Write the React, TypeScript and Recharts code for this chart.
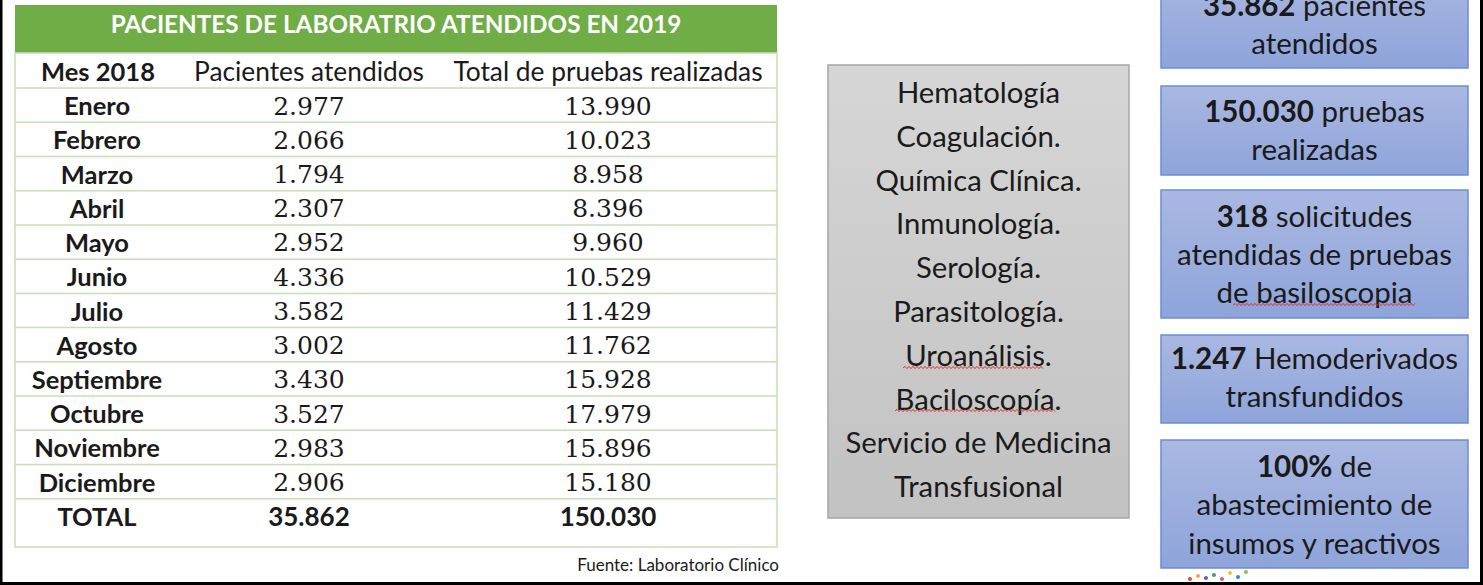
import React from "react";
import { BarChart, Bar, XAxis, YAxis, LabelList, Customized } from "recharts";

// ---------- data ----------
const TITLE = "PACIENTES DE LABORATRIO ATENDIDOS EN 2019";
const HEADERS = ["Mes 2018", "Pacientes atendidos", "Total de pruebas realizadas"];
const MESES = [
  "Enero", "Febrero", "Marzo", "Abril", "Mayo", "Junio", "Julio",
  "Agosto", "Septiembre", "Octubre", "Noviembre", "Diciembre",
];
const PACIENTES = [2977, 2066, 1794, 2307, 2952, 4336, 3582, 3002, 3430, 3527, 2983, 2906];
const PRUEBAS = [13990, 10023, 8958, 8396, 9960, 10529, 11429, 11762, 15928, 17979, 15896, 15180];
const TOTAL_LABEL = "TOTAL";
const TOTAL_PACIENTES = 35862;
const TOTAL_PRUEBAS = 150030;
const FUENTE = "Fuente: Laboratorio Clínico";
const SERVICIOS = [
  "Hematología", "Coagulación.", "Química Clínica.", "Inmunología.", "Serología.",
  "Parasitología.", "Uroanálisis.", "Baciloscopía.", "Servicio de Medicina", "Transfusional",
];
const RESUMEN_BOLD = ["35.862", "150.030", "318", "1.247", "100%"];
const RESUMEN_LINES = [
  [" pacientes", "atendidos"],
  [" pruebas", "realizadas"],
  [" solicitudes", "atendidas de pruebas", "de basiloscopia"],
  [" Hemoderivados", "transfundidos"],
  [" de", "abastecimiento de", "insumos y reactivos"],
];

// ---------- helpers ----------
const fmt = (n: number) => String(n).replace(/\B(?=(\d{3})+(?!\d))/g, ".");

const rows = [
  ...MESES.map((m, i) => ({ mes: m, pacientes: PACIENTES[i], pruebas: PRUEBAS[i], total: false })),
  { mes: TOTAL_LABEL, pacientes: TOTAL_PACIENTES, pruebas: TOTAL_PRUEBAS, total: true },
];

const SANS = "Lato, 'Noto Sans', sans-serif";
const SERIF = "'DejaVu Serif', 'Liberation Serif', serif";
const TEXT = "#1a1a1a";

const TABLE_L = 15;
const TABLE_R = 777;
const COL_MES = 97;
const COL_PAC = 309;
const COL_PRU = 608;

const wave = (x1: number, x2: number, y: number) => {
  let d = `M${x1},${y}`;
  let up = true;
  for (let x = x1 + 2; x <= x2; x += 2) {
    d += ` L${x},${up ? y - 1.6 : y + 0.6}`;
    up = !up;
  }
  return d;
};

const MonthTick = (props: any) => {
  const { y, payload } = props;
  return (
    <text x={COL_MES} y={y} textAnchor="middle" dominantBaseline="central"
      fontFamily={SANS} fontWeight={700} fontSize={25.5} fill={TEXT}>
      {payload.value}
    </text>
  );
};

const RowLine = (props: any) => {
  const { y } = props;
  return <line x1={TABLE_L} x2={TABLE_R} y1={y} y2={y} stroke="#C5E0B4" strokeWidth={1.5} />;
};

const makeLabel = (cx: number) => (props: any) => {
  const { y, height, value, index } = props;
  const isTotal = rows[index]?.total;
  return (
    <text x={cx} y={y + height / 2 + (isTotal ? 0 : 1)} textAnchor="middle" dominantBaseline="central"
      fontFamily={isTotal ? SANS : SERIF} fontWeight={isTotal ? 700 : 400}
      fontSize={isTotal ? 26 : 25} fill={TEXT}>
      {fmt(value)}
    </text>
  );
};

const BLUE_BOXES = [
  { y0: -30, y1: 68, lines: [4, 42] },
  { y0: 86, y1: 175, lines: [110, 148] },
  { y0: 190, y1: 318, lines: [215, 253, 291] },
  { y0: 335, y1: 423, lines: [357, 395] },
  { y0: 440, y1: 568, lines: [465, 503, 542] },
];

const Overlay = () => {
  const grayTop = 65;
  const grayStep = 43.8;
  const grayFirst = 91.5;
  return (
    <g>
      <defs>
        <linearGradient id="grayGrad" x1="0" y1="0" x2="0" y2="1">
          <stop offset="0%" stopColor="#D6D6D6" />
          <stop offset="100%" stopColor="#C2C2C2" />
        </linearGradient>
        <linearGradient id="blueGrad" x1="0" y1="0" x2="0" y2="1">
          <stop offset="0%" stopColor="#AAB8E2" />
          <stop offset="100%" stopColor="#8EA4DA" />
        </linearGradient>
      </defs>

      {/* table frame */}
      <rect x={TABLE_L} y={5} width={TABLE_R - TABLE_L} height={48} fill="#70AD47" />
      <text x={(TABLE_L + TABLE_R) / 2} y={23} textAnchor="middle" dominantBaseline="central"
        fontFamily={SANS} fontWeight={700} fontSize={24.3} fill="#FFFFFF">
        {TITLE}
      </text>
      <rect x={TABLE_L} y={53} width={TABLE_R - TABLE_L} height={494} fill="none"
        stroke="#C5E0B4" strokeWidth={1.5} />
      <text x={COL_MES + 1} y={71} textAnchor="middle" dominantBaseline="central"
        fontFamily={SANS} fontWeight={700} fontSize={25.5} fill={TEXT}>{HEADERS[0]}</text>
      <text x={COL_PAC} y={71} textAnchor="middle" dominantBaseline="central"
        fontFamily={SANS} fontSize={26.3} fill={TEXT}>{HEADERS[1]}</text>
      <text x={COL_PRU} y={71} textAnchor="middle" dominantBaseline="central"
        fontFamily={SANS} fontSize={26.3} fill={TEXT}>{HEADERS[2]}</text>
      <text x={779} y={564} textAnchor="end" dominantBaseline="central"
        fontFamily={SANS} fontSize={17} fill={TEXT}>{FUENTE}</text>

      {/* gray box */}
      <rect x={828} y={grayTop} width={301} height={453} fill="url(#grayGrad)"
        stroke="#A6A6A6" strokeWidth={1.5} />
      {SERVICIOS.map((s, i) => (
        <text key={s} x={978.5} y={grayFirst + i * grayStep} textAnchor="middle"
          dominantBaseline="central" fontFamily={SANS} fontSize={29.3} fill={TEXT}>{s}</text>
      ))}
      <path d={wave(903, 1043, 368)} fill="none" stroke="#E03030" strokeWidth={1} />
      <path d={wave(895, 1055, 411)} fill="none" stroke="#E03030" strokeWidth={1} />

      {/* blue boxes */}
      {BLUE_BOXES.map((b, i) => (
        <g key={i}>
          <rect x={1161} y={b.y0} width={307} height={b.y1 - b.y0} fill="url(#blueGrad)"
            stroke="#6A8DD6" strokeWidth={1.5} />
          {b.lines.map((ly, j) => (
            <text key={j} x={1314.5} y={ly} textAnchor="middle" dominantBaseline="central"
              fontFamily={SANS} fontSize={29.5} fill={TEXT}>
              {j === 0 ? (
                <>
                  <tspan fontWeight={700}>{RESUMEN_BOLD[i]}</tspan>
                  <tspan>{RESUMEN_LINES[i][0]}</tspan>
                </>
              ) : (
                RESUMEN_LINES[i][j]
              )}
            </text>
          ))}
        </g>
      ))}
      <path d={wave(1233, 1416, 305)} fill="none" stroke="#E03030" strokeWidth={1} />

      {/* logo fragments */}
      <circle cx={1190} cy={579} r={2} fill="#E8463B" />
      <circle cx={1198} cy={576} r={2} fill="#F2A93B" />
      <circle cx={1206} cy={578} r={2} fill="#7A4FB5" />
      <circle cx={1214} cy={575} r={2} fill="#3FA34D" />
      <circle cx={1222} cy={579} r={2} fill="#E94E8A" />
      <circle cx={1230} cy={573} r={2} fill="#F5C518" />
      <circle cx={1238} cy={577} r={2} fill="#2E86DE" />
      <circle cx={1246} cy={572} r={2} fill="#8BC34A" />

      {/* outer frame */}
      <line x1={1} x2={1} y1={0} y2={585} stroke="#000" strokeWidth={3} />
      <line x1={1481.5} x2={1481.5} y1={0} y2={585} stroke="#000" strokeWidth={3} />
      <line x1={0} x2={1483} y1={583.5} y2={583.5} stroke="#000" strokeWidth={3} />
    </g>
  );
};

export default function App() {
  return (
    <div style={{ position: "absolute", left: 0, top: 0, width: 1483, height: 585, background: "#fff" }}>
      <style>{"body{margin:0;background:#fff}"}</style>
      <BarChart
        width={1483}
        height={585}
        data={rows}
        layout="vertical"
        margin={{ top: 88, bottom: 52, left: 0, right: 0 }}
        barCategoryGap={0}
      >
        <XAxis type="number" hide domain={[0, 400000]} />
        <YAxis type="category" dataKey="mes" width={15} axisLine={false} tickLine={false}
          tick={<MonthTick />} interval={0} />
        <Bar dataKey="pacientes" stackId="t" fill="none" isAnimationActive={false}
          shape={<RowLine />}>
          <LabelList dataKey="pacientes" content={makeLabel(COL_PAC)} />
        </Bar>
        <Bar dataKey="pruebas" stackId="t" fill="none" isAnimationActive={false}
          shape={() => <g />}>
          <LabelList dataKey="pruebas" content={makeLabel(COL_PRU)} />
        </Bar>
        <Customized component={<Overlay />} />
      </BarChart>
    </div>
  );
}
